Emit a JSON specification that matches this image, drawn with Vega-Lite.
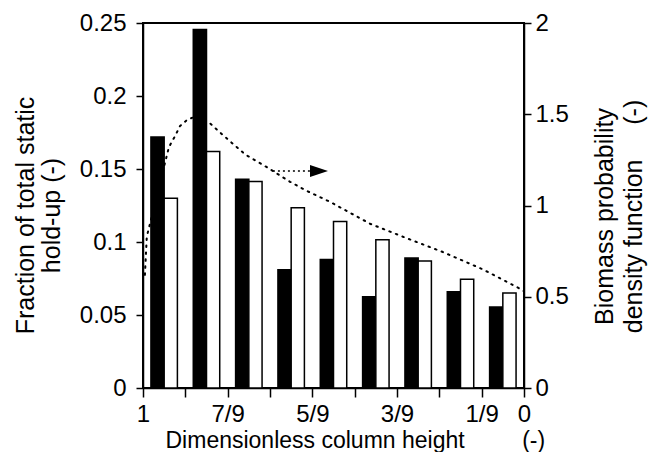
{
  "$schema": "https://vega.github.io/schema/vega-lite/v6.json",
  "width": 381,
  "height": 365,
  "autosize": {"type": "none"},
  "padding": {"left": 143, "top": 23, "right": 125, "bottom": 64},
  "background": "white",
  "config": {
    "font": "Liberation Sans",
    "view": {"stroke": "black", "strokeWidth": 2},
    "axis": {
      "domainColor": "black", "tickColor": "black", "labelColor": "black", "titleColor": "black",
      "labelFont": "Liberation Sans", "titleFont": "Liberation Sans",
      "labelFontSize": 24, "titleFontSize": 25, "titleFontWeight": "normal",
      "grid": false, "tickSize": 7, "domainWidth": 1.5, "tickWidth": 1.5,
      "labelFlush": false, "labelOverlap": false
    }
  },
  "datasets": {
    "bars": [
      {"group": 1, "series": "dark", "value": 0.172},
      {"group": 1, "series": "light", "value": 0.130},
      {"group": 2, "series": "dark", "value": 0.2455},
      {"group": 2, "series": "light", "value": 0.162},
      {"group": 3, "series": "dark", "value": 0.143},
      {"group": 3, "series": "light", "value": 0.1415},
      {"group": 4, "series": "dark", "value": 0.081},
      {"group": 4, "series": "light", "value": 0.1235},
      {"group": 5, "series": "dark", "value": 0.088},
      {"group": 5, "series": "light", "value": 0.114},
      {"group": 6, "series": "dark", "value": 0.0625},
      {"group": 6, "series": "light", "value": 0.1015},
      {"group": 7, "series": "dark", "value": 0.089},
      {"group": 7, "series": "light", "value": 0.087},
      {"group": 8, "series": "dark", "value": 0.066},
      {"group": 8, "series": "light", "value": 0.0745},
      {"group": 9, "series": "dark", "value": 0.0555},
      {"group": 9, "series": "light", "value": 0.065}
    ],
    "pdf": [
      {"h": 0.995, "pdf": 0.62},
      {"h": 0.99, "pdf": 0.83},
      {"h": 0.932, "pdf": 1.32},
      {"h": 0.916, "pdf": 1.38},
      {"h": 0.903, "pdf": 1.435},
      {"h": 0.885, "pdf": 1.468},
      {"h": 0.866, "pdf": 1.485},
      {"h": 0.824, "pdf": 1.45},
      {"h": 0.787, "pdf": 1.38},
      {"h": 0.732, "pdf": 1.28},
      {"h": 0.675, "pdf": 1.21},
      {"h": 0.614, "pdf": 1.13},
      {"h": 0.57, "pdf": 1.08},
      {"h": 0.509, "pdf": 1.02},
      {"h": 0.404, "pdf": 0.9},
      {"h": 0.307, "pdf": 0.82},
      {"h": 0.213, "pdf": 0.745},
      {"h": 0.108, "pdf": 0.65},
      {"h": 0.016, "pdf": 0.55},
      {"h": 0.0, "pdf": 0.53}
    ],
    "arrow": [
      {"h": 0.659, "pdf": 1.189},
      {"h": 0.55, "pdf": 1.189}
    ],
    "head": [
      {"h": 0.538, "pdf": 1.189}
    ]
  },
  "layer": [
    {
      "data": {"name": "bars"},
      "mark": {"type": "bar", "stroke": "black", "strokeWidth": 1.5},
      "encoding": {
        "x": {"field": "group", "type": "ordinal", "axis": null,
              "scale": {"paddingInner": 0.375, "paddingOuter": 0.1875}},
        "xOffset": {"field": "series", "type": "nominal", "sort": ["dark", "light"],
                    "scale": {"paddingInner": 0, "paddingOuter": 0}},
        "y": {"field": "value", "type": "quantitative",
              "scale": {"domain": [0, 0.25], "nice": false, "zero": true},
              "axis": {"orient": "left", "values": [0, 0.05, 0.1, 0.15, 0.2, 0.25], "format": "~g",
                       "labelPadding": 10,
                       "title": ["Fraction of total static", "hold-up (-)"],
                       "titleAngle": 270, "titleBaseline": "alphabetic", "titleAlign": "center",
                       "titleX": -110, "titleY": 192, "titleLineHeight": 26}},
        "fill": {"field": "series", "type": "nominal",
                 "scale": {"domain": ["dark", "light"], "range": ["black", "white"]}, "legend": null}
      }
    },
    {
      "layer": [
        {
          "data": {"name": "pdf"},
          "mark": {"type": "line", "color": "black", "strokeWidth": 2, "strokeDash": [1.5, 5.5], "strokeCap": "round"},
          "encoding": {
            "x": {"field": "h", "type": "quantitative",
                  "scale": {"domain": [0, 1], "reverse": true, "nice": false, "zero": false},
                  "axis": {"orient": "bottom",
                           "values": [0, 0.1111111, 0.2222222, 0.3333333, 0.4444444, 0.5555556, 0.6666667, 0.7777778, 0.8888889, 1],
                           "labelExpr": "round(datum.value*9) == 9 ? '1' : round(datum.value*9) == 0 ? '0' : (round(datum.value*9) % 2 == 1 ? round(datum.value*9) + '/9' : '')",
                           "tickSize": 9,
                           "labelPadding": 5,
                           "title": "Dimensionless column height\u00a0\u00a0\u00a0\u00a0\u00a0\u00a0\u00a0\u00a0\u00a0(-)",
                           "titleFontSize": 23,
                           "titleAnchor": "start", "titleAlign": "left", "titleBaseline": "alphabetic",
                           "titleX": 22, "titleY": 59}},
            "y": {"field": "pdf", "type": "quantitative",
                  "scale": {"domain": [0, 2], "nice": false},
                  "axis": {"orient": "right", "values": [0, 0.5, 1, 1.5, 2], "format": "~g",
                           "labelPadding": 4,
                           "title": ["Biomass probability\u00a0\u00a0\u00a0\u00a0", "density function\u00a0\u00a0\u00a0\u00a0\u00a0(-)"],
                           "titleAngle": 270, "titleBaseline": "alphabetic", "titleAlign": "center",
                           "titleX": 88, "titleY": 193, "titleLineHeight": 29}}
          }
        },
        {
          "data": {"name": "arrow"},
          "mark": {"type": "line", "color": "black", "strokeWidth": 1.5, "strokeDash": [2, 3]},
          "encoding": {
            "x": {"field": "h", "type": "quantitative"},
            "y": {"field": "pdf", "type": "quantitative"}
          }
        },
        {
          "data": {"name": "head"},
          "mark": {"type": "point", "shape": "M-1,-0.667L1,0L-1,0.667Z", "size": 324, "filled": true, "color": "black", "opacity": 1, "strokeWidth": 0},
          "encoding": {
            "x": {"field": "h", "type": "quantitative"},
            "y": {"field": "pdf", "type": "quantitative"}
          }
        }
      ]
    }
  ],
  "resolve": {"scale": {"x": "independent", "y": "independent"}}
}
